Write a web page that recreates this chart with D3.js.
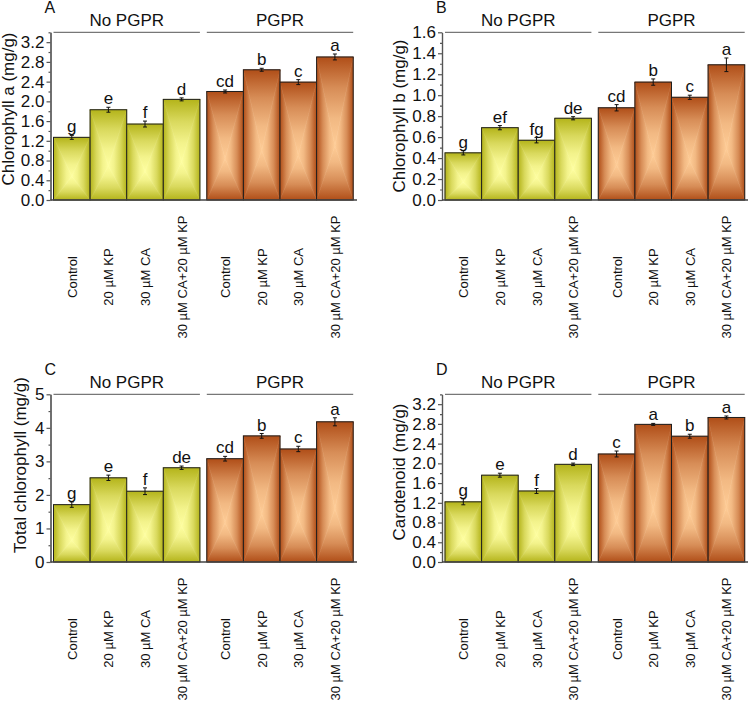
<!DOCTYPE html>
<html><head><meta charset="utf-8">
<script src="https://cdn.jsdelivr.net/npm/d3@7"></script>
<style>
body{margin:0;background:#fff;}
svg text{font-family:"Liberation Sans",Arial,sans-serif;fill:#111;}
</style></head>
<body><svg id="chart" width="748" height="703"></svg>
<script>
// ---------- data ----------
const groups = ["No PGPR", "PGPR"];
const treatments = ["Control", "20 µM KP", "30 µM CA", "30 µM CA+20 µM KP"];

const chlA       = [1.27, 1.83, 1.54, 2.04, 2.20, 2.64, 2.39, 2.90];
const chlAErr    = [0.04, 0.05, 0.06, 0.03, 0.03, 0.03, 0.05, 0.06];
const chlALetters= ["g","e","f","d","cd","b","c","a"];

const chlB       = [0.45, 0.69, 0.57, 0.78, 0.88, 1.125, 0.98, 1.29];
const chlBErr    = [0.02, 0.02, 0.025, 0.015, 0.03, 0.03, 0.02, 0.065];
const chlBLetters= ["g","ef","fg","de","cd","b","c","a"];

const totChl       = [1.71, 2.51, 2.11, 2.81, 3.08, 3.76, 3.37, 4.18];
const totChlErr    = [0.08, 0.08, 0.10, 0.05, 0.07, 0.07, 0.08, 0.12];
const totChlLetters= ["g","e","f","de","cd","b","c","a"];

const carot       = [1.22, 1.76, 1.44, 1.98, 2.19, 2.79, 2.55, 2.93];
const carotErr    = [0.06, 0.04, 0.05, 0.025, 0.06, 0.02, 0.04, 0.03];
const carotLetters= ["g","e","f","d","c","a","b","a"];

const ticksA = [0,0.4,0.8,1.2,1.6,2.0,2.4,2.8,3.2];
const ticksB = [0,0.2,0.4,0.6,0.8,1.0,1.2,1.4,1.6];
const ticksC = [0,1,2,3,4,5];
const ticksD = [0,0.4,0.8,1.2,1.6,2.0,2.4,2.8,3.2];

const panels = [
  {tag:"A", title:"Chlorophyll a (mg/g)", vals:chlA, errs:chlAErr, letters:chlALetters, max:3.4, ticks:ticksA, minorStep:0.2, fmt:".1f", ox:0, oy:0, titleX:14, titleY:109},
  {tag:"B", title:"Chlorophyll b (mg/g)", vals:chlB, errs:chlBErr, letters:chlBLetters, max:1.6, ticks:ticksB, minorStep:0.1, fmt:".1f", ox:391.5, oy:0, titleX:405, titleY:116},
  {tag:"C", title:"Total chlorophyll (mg/g)", vals:totChl, errs:totChlErr, letters:totChlLetters, max:5, ticks:ticksC, minorStep:0.5, fmt:"d", ox:0, oy:362, titleX:26, titleY:465},
  {tag:"D", title:"Carotenoid (mg/g)", vals:carot, errs:carotErr, letters:carotLetters, max:3.4, ticks:ticksD, minorStep:0.2, fmt:".1f", ox:391.5, oy:362, titleX:405, titleY:472}
];

// ---------- drawing ----------
const svg = d3.select("#chart");
const defs = svg.append("defs");
const palettes = [
  {id:"y", dark:"#b4b41a", light:"#fefea0"},
  {id:"o", dark:"#b04e18", light:"#fecc96"}
];
palettes.forEach(p=>{
  const dirs = {top:[0,0,0,1], bottom:[0,1,0,0], left:[0,0,1,0], right:[1,0,0,0]};
  const mix = d3.interpolateRgb(p.dark, p.light);
  Object.entries(dirs).forEach(([k,v])=>{
    const g = defs.append("linearGradient").attr("id",`g-${p.id}-${k}`)
      .attr("x1",v[0]).attr("y1",v[1]).attr("x2",v[2]).attr("y2",v[3]);
    g.append("stop").attr("offset",0).attr("stop-color",p.dark);
    g.append("stop").attr("offset",0.35).attr("stop-color",mix(0.5));
    g.append("stop").attr("offset",0.7).attr("stop-color",mix(0.85));
    g.append("stop").attr("offset",1).attr("stop-color",p.light);
  });
});

const fontMain = 17;

panels.forEach(P=>{
  const left = 50.5 + P.ox, right = 357 + P.ox;
  const top = 32.3 + P.oy, bottom = 200 + P.oy;
  const y = d3.scaleLinear().domain([0, P.max]).range([bottom, top]);
  const xg = d3.scaleBand().domain(groups).range([left+3, right-3.8]).paddingInner(0.045).paddingOuter(0);
  const xt = d3.scaleBand().domain(treatments).range([0, xg.bandwidth()]).padding(0);
  const g = svg.append("g");

  const items = [];
  groups.forEach((gr,gi)=>treatments.forEach((t,ti)=>{
    const i = gi*4+ti;
    items.push({gr, t, gi, v:P.vals[i], e:P.errs[i], l:P.letters[i]});
  }));

  // bars
  items.forEach(d=>{
    const x0 = xg(d.gr)+xt(d.t), w = xt.bandwidth();
    const y0 = y(d.v), h = y(0)-y0;
    const cx = x0 + w/2, cy = y0 + 0.62*h;
    const pid = d.gi===0 ? "y" : "o";
    const tris = {
      top:[[x0,y0],[x0+w,y0],[cx,cy]],
      bottom:[[x0,y0+h],[x0+w,y0+h],[cx,cy]],
      left:[[x0,y0],[x0,y0+h],[cx,cy]],
      right:[[x0+w,y0],[x0+w,y0+h],[cx,cy]]
    };
    Object.entries(tris).forEach(([k,pts])=>{
      g.append("polygon").attr("points", pts.map(p=>p.join(",")).join(" "))
        .attr("fill",`url(#g-${pid}-${k})`).attr("stroke",`url(#g-${pid}-${k})`).attr("stroke-width",0.6);
    });
    g.append("rect").attr("x",x0).attr("y",y0).attr("width",w).attr("height",h)
      .attr("fill","none").attr("stroke","#1e1e1e").attr("stroke-width",1);
    // error bar
    const yt = y(d.v+d.e), yb = y(d.v-d.e);
    g.append("path").attr("d",`M${cx},${yt}V${yb}M${cx-2},${yt}H${cx+2}M${cx-2},${yb}H${cx+2}`)
      .attr("stroke","#111").attr("stroke-width",1).attr("fill","none");
    g.append("text").attr("x",cx).attr("y",yt-3).attr("text-anchor","middle")
      .attr("font-size",fontMain).text(d.l);
    // category label
    g.append("text").attr("transform",`translate(${cx+0.5},${277+P.oy}) rotate(-90)`)
      .attr("text-anchor","middle").attr("dominant-baseline","central")
      .attr("font-size",13).text(d.t);
  });

  // y axis
  const minors = d3.range(0, P.max+1e-9, P.minorStep).filter(v=>!P.ticks.some(t=>Math.abs(t-v)<1e-9));
  const minorAxis = d3.axisLeft(y).tickValues(minors).tickSize(2).tickFormat("").tickSizeOuter(0);
  const ga2 = g.append("g").attr("transform",`translate(${left},0)`).call(minorAxis);
  const majorAxis = d3.axisLeft(y).tickValues(P.ticks).tickSize(4).tickPadding(2)
    .tickFormat(d3.format(P.fmt)).tickSizeOuter(0);
  const ga = g.append("g").attr("transform",`translate(${left},0)`).call(majorAxis);
  [ga, ga2].forEach(a=>{
    a.selectAll("path,line").attr("stroke","#555").attr("stroke-width",1.2);
    a.selectAll("text").attr("font-size",fontMain).attr("fill","#111")
      .attr("font-family","'Liberation Sans',Arial,sans-serif");
  });
  // x axis line
  g.append("line").attr("x1",left).attr("x2",right).attr("y1",y(0)).attr("y2",y(0))
    .attr("stroke","#444").attr("stroke-width",1.4);

  // group headers
  groups.forEach(gr=>{
    const gx = xg(gr);
    g.append("line").attr("x1",gx).attr("x2",gx+xg.bandwidth()).attr("y1",top).attr("y2",top)
      .attr("stroke","#777").attr("stroke-width",1.3);
    g.append("text").attr("x",gx+xg.bandwidth()/2).attr("y",top-6.5).attr("text-anchor","middle")
      .attr("font-size",fontMain).text(gr);
  });

  // panel tag
  g.append("text").attr("x",left-6).attr("y",top-19).attr("font-size",16).text(P.tag);
  // y title
  g.append("text").attr("transform",`translate(${P.titleX},${P.titleY}) rotate(-90)`)
    .attr("text-anchor","middle").attr("font-size",fontMain).text(P.title);
});
</script></body></html>
